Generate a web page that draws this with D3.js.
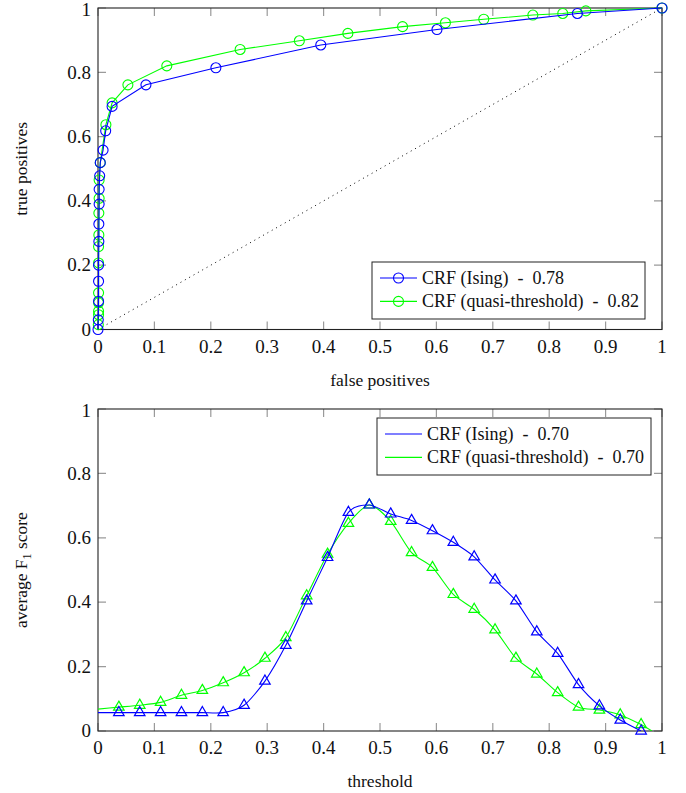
<!DOCTYPE html>
<html>
<head>
<meta charset="utf-8">
<script src="https://cdn.jsdelivr.net/npm/d3@7"></script>
<style>
  body { margin: 0; background: #fff; }
</style>
</head>
<body>
<div id="chart"></div>
<script>
// ROC curve points (false positive rate, true positive rate)
const isingFpr = [0, 0.0005, 0.001, 0.001, 0.001, 0.0015, 0.0015, 0.002, 0.002, 0.003, 0.004, 0.009, 0.0136, 0.025, 0.085, 0.209, 0.395, 0.601, 0.850, 1.0];
const isingTpr = [0, 0.03, 0.088, 0.15, 0.20, 0.274, 0.328, 0.39, 0.436, 0.478, 0.519, 0.558, 0.618, 0.694, 0.761, 0.814, 0.885, 0.933, 0.983, 1.0];
const quasiFpr = [0.0005, 0.001, 0.001, 0.001, 0.001, 0.001, 0.001, 0.0015, 0.0015, 0.002, 0.002, 0.004, 0.014, 0.025, 0.053, 0.122, 0.252, 0.357, 0.443, 0.540, 0.616, 0.684, 0.771, 0.824, 0.865, 1.0];
const quasiTpr = [0.015, 0.046, 0.057, 0.083, 0.114, 0.207, 0.258, 0.294, 0.362, 0.408, 0.465, 0.519, 0.637, 0.705, 0.761, 0.820, 0.871, 0.898, 0.921, 0.942, 0.954, 0.965, 0.978, 0.983, 0.991, 1.0];

// F1 score against threshold (points with a marker)
const thresholds = [0.037, 0.074, 0.111, 0.148, 0.185, 0.222, 0.259, 0.296, 0.333, 0.370, 0.407, 0.444, 0.481, 0.519, 0.556, 0.593, 0.630, 0.667, 0.704, 0.741, 0.778, 0.815, 0.852, 0.889, 0.926, 0.963];
const isingF1 = [0.057, 0.057, 0.057, 0.057, 0.057, 0.057, 0.080, 0.155, 0.266, 0.404, 0.539, 0.679, 0.702, 0.674, 0.654, 0.622, 0.586, 0.541, 0.469, 0.404, 0.308, 0.241, 0.144, 0.078, 0.034, 0.0];
const quasiF1 = [0.074, 0.080, 0.089, 0.111, 0.126, 0.150, 0.181, 0.226, 0.290, 0.420, 0.549, 0.645, 0.702, 0.651, 0.554, 0.508, 0.424, 0.378, 0.314, 0.226, 0.177, 0.119, 0.074, 0.065, 0.050, 0.020];
// line ends without a marker [threshold, value]
const isingF1Start = [0, 0.057];
const quasiF1Start = [0, 0.068];
const quasiF1End = [0.982, 0.0];

const xTicks = [0, 0.1, 0.2, 0.3, 0.4, 0.5, 0.6, 0.7, 0.8, 0.9, 1];
const yTicks = [0, 0.2, 0.4, 0.6, 0.8, 1];

const rocLegend = ["CRF (Ising) - 0.78", "CRF (quasi-threshold) - 0.82"];
const f1Legend = ["CRF (Ising) - 0.70", "CRF (quasi-threshold) - 0.70"];

const BLUE = "#0000ff";
const GREEN = "#00ff00";
const TICK_LEN = 8;
const FONT = "'Liberation Serif', 'Times New Roman', 'DejaVu Serif', serif";

const svg = d3.select("#chart").append("svg")
  .attr("width", 686).attr("height", 793)
  .attr("font-family", FONT);

// draw a framed axis box in pgfplots style, returns scales
function makeAxes(top, bottom, xLabel, yLabel, id) {
  const x = d3.scaleLinear().domain([0, 1]).range([98, 662]);
  const y = d3.scaleLinear().domain([0, 1]).range([bottom, top]);
  const g = svg.append("g");

  // clip for the plot area
  svg.append("clipPath").attr("id", id)
    .append("rect").attr("x", 98).attr("y", top).attr("width", 564).attr("height", bottom - top);

  // inward ticks on all four sides
  const tickColor = "#9a9a9a";
  g.selectAll(".xt").data(xTicks).enter().append("path")
    .attr("d", d => `M${x(d)},${bottom}v${-TICK_LEN}M${x(d)},${top}v${TICK_LEN}`)
    .attr("stroke", tickColor).attr("stroke-width", 1.2);
  g.selectAll(".yt").data(yTicks).enter().append("path")
    .attr("d", d => `M98,${y(d)}h${TICK_LEN}M662,${y(d)}h${-TICK_LEN}`)
    .attr("stroke", tickColor).attr("stroke-width", 1.2);

  // tick labels
  g.selectAll(".xl").data(xTicks).enter().append("text")
    .attr("x", d => x(d)).attr("y", bottom + 23)
    .attr("text-anchor", "middle").attr("font-size", 19).attr("fill", "#111")
    .text(d => d);
  g.selectAll(".yl").data(yTicks).enter().append("text")
    .attr("x", 91).attr("y", d => y(d) + (d === 1 ? 2 : 0)).attr("dy", "0.33em")
    .attr("text-anchor", "end").attr("font-size", 19).attr("fill", "#111")
    .text(d => d);

  // frame
  g.append("rect").attr("x", 98).attr("y", top).attr("width", 564).attr("height", bottom - top)
    .attr("fill", "none").attr("stroke", "#222").attr("stroke-width", 1.1);

  // axis titles
  g.append("text")
    .attr("x", 380).attr("y", bottom + 56)
    .attr("text-anchor", "middle").attr("font-size", 17.5).attr("fill", "#111")
    .text(xLabel);
  const yl = g.append("text")
    .attr("transform", `translate(27,${(top + bottom) / 2}) rotate(-90)`)
    .attr("text-anchor", "middle").attr("font-size", 17.5).attr("fill", "#111");
  yLabel(yl);

  return { x, y };
}

// ---------- ROC plot ----------
const roc = makeAxes(8, 329.5, "false positives", t => t.text("true positives"), "clipRoc");

// chance diagonal
svg.append("line")
  .attr("x1", roc.x(0)).attr("y1", roc.y(0)).attr("x2", roc.x(1)).attr("y2", roc.y(1))
  .attr("stroke", "#000").attr("stroke-width", 1).attr("stroke-dasharray", "1,4");

function rocSeries(fpr, tpr, color) {
  const pts = fpr.map((f, i) => [f, tpr[i]]);
  svg.append("path").datum(pts)
    .attr("fill", "none").attr("stroke", color).attr("stroke-width", 1.1)
    .attr("d", d3.line().x(d => roc.x(d[0])).y(d => roc.y(d[1])));
  svg.append("g").selectAll("circle").data(pts).enter().append("circle")
    .attr("cx", d => roc.x(d[0])).attr("cy", d => roc.y(d[1])).attr("r", 5)
    .attr("fill", "none").attr("stroke", color).attr("stroke-width", 1.1);
}
rocSeries(quasiFpr, quasiTpr, GREEN);
rocSeries(isingFpr, isingTpr, BLUE);

// legend
function legend(x0, y0, w, h, labels, withMarker) {
  const g = svg.append("g");
  g.append("rect").attr("x", x0).attr("y", y0).attr("width", w).attr("height", h)
    .attr("fill", "#fff").attr("stroke", "#222").attr("stroke-width", 1);
  [BLUE, GREEN].forEach((c, i) => {
    const cy = y0 + 16 + i * 23.4;
    g.append("line").attr("x1", x0 + 8).attr("x2", x0 + 45).attr("y1", cy).attr("y2", cy)
      .attr("stroke", c).attr("stroke-width", 1.1);
    if (withMarker) {
      g.append("circle").attr("cx", x0 + 26.5).attr("cy", cy).attr("r", 5)
        .attr("fill", "none").attr("stroke", c).attr("stroke-width", 1.1);
    }
    g.append("text").attr("x", x0 + 50).attr("y", cy).attr("dy", "0.33em")
      .attr("font-size", 18).attr("fill", "#111")
      .attr("xml:space", "preserve")
      .text(labels[i].replace(" - ", "  -  "));
  });
}
legend(372, 262, 273, 57, rocLegend, true);

// ---------- F1 plot ----------
const f1 = makeAxes(409, 731, "threshold", t => {
  t.append("tspan").text("average F");
  t.append("tspan").attr("dy", 4).attr("font-size", 12).text("1");
  t.append("tspan").attr("dy", -4).text(" score");
}, "clipF1");

const tri = d3.symbol().type(d3.symbolTriangle).size(48);

function f1Series(vals, start, end, color) {
  const pts = thresholds.map((t, i) => [t, vals[i]]);
  const linePts = [start].concat(pts);
  if (end) linePts.push(end);
  svg.append("path").datum(linePts)
    .attr("clip-path", "url(#clipF1)")
    .attr("fill", "none").attr("stroke", color).attr("stroke-width", 1.1)
    .attr("d", d3.line().curve(d3.curveCardinal.tension(0.25)).x(d => f1.x(d[0])).y(d => f1.y(d[1])));
  svg.append("g").selectAll("path").data(pts).enter().append("path")
    .attr("transform", d => `translate(${f1.x(d[0])},${f1.y(d[1])})`)
    .attr("d", tri)
    .attr("fill", "none").attr("stroke", color).attr("stroke-width", 1.2);
}
f1Series(quasiF1, quasiF1Start, quasiF1End, GREEN);
f1Series(isingF1, isingF1Start, null, BLUE);

legend(377, 418, 274, 57, f1Legend, false);
</script>
</body>
</html>
